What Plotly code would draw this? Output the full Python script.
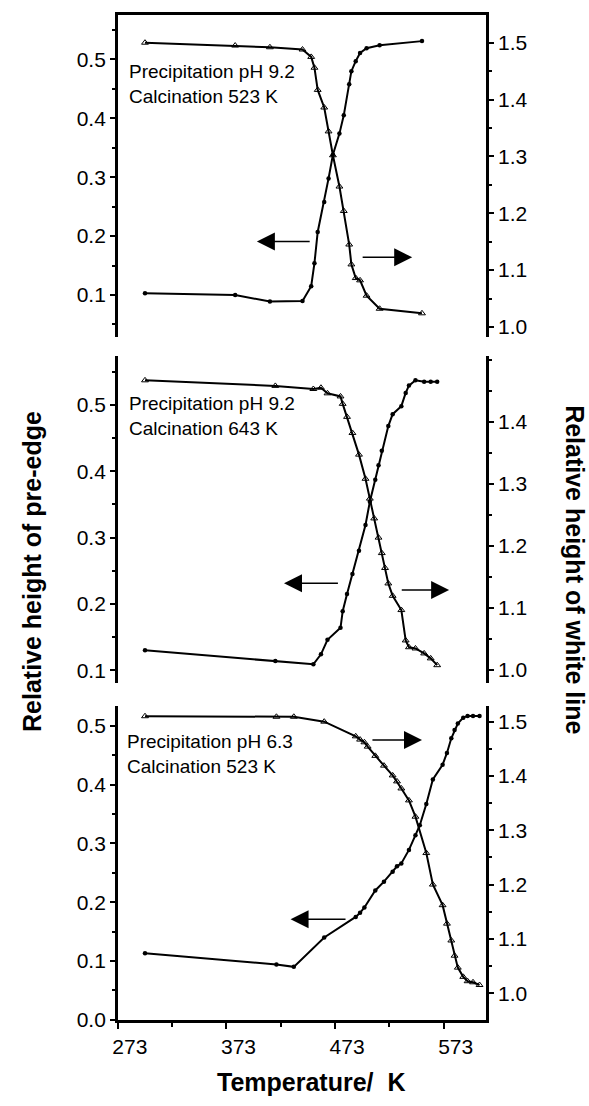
import plotly.graph_objects as go

# ---------------- data ----------------
# Panel 1: Precipitation pH 9.2, Calcination 523 K
p1_temp = [298, 381, 413, 443, 451, 454, 457, 463, 467, 471, 477, 481, 486, 488, 492, 496, 502, 514, 553]
p1_preedge = [0.103, 0.100, 0.089, 0.090, 0.115, 0.154, 0.207, 0.258, 0.298, 0.338, 0.374, 0.405,
              0.458, 0.480, 0.497, 0.511, 0.519, 0.524, 0.531]
p1_white = [1.500, 1.495, 1.492, 1.488, 1.475, 1.456, 1.417, 1.386, 1.344, 1.302, 1.247, 1.204,
            1.145, 1.110, 1.086, 1.082, 1.055, 1.032, 1.024]

# Panel 2: Precipitation pH 9.2, Calcination 643 K
p2_temp_pre = [298, 418, 453, 460, 466, 478, 480, 484, 489, 495, 501, 505, 510, 513, 516, 522, 526,
               534, 538, 541, 547, 555, 561, 567]
p2_preedge = [0.130, 0.114, 0.109, 0.124, 0.146, 0.164, 0.189, 0.215, 0.245, 0.280, 0.319, 0.354,
              0.387, 0.409, 0.431, 0.468, 0.486, 0.498, 0.518, 0.529, 0.537, 0.535, 0.535, 0.535]
p2_temp_wl = [298, 418, 453, 460, 466, 478, 480, 484, 489, 495, 501, 505, 509, 513, 516, 519, 522,
              526, 534, 538, 541, 547, 555, 561, 567]
p2_white = [1.467, 1.458, 1.453, 1.455, 1.446, 1.441, 1.429, 1.408, 1.382, 1.347, 1.308, 1.276,
            1.244, 1.213, 1.188, 1.164, 1.139, 1.119, 1.096, 1.047, 1.036, 1.034, 1.026, 1.018, 1.007]

# Panel 3: Precipitation pH 6.3, Calcination 523 K
p3_temp_pre = [298, 419, 435, 463, 492, 496, 500, 510, 518, 526, 530, 534, 541, 547, 551, 557, 563,
               572, 576, 580, 583, 586, 591, 595, 600, 606]
p3_preedge = [0.113, 0.094, 0.090, 0.140, 0.175, 0.182, 0.191, 0.220, 0.235, 0.252, 0.261, 0.266,
              0.289, 0.314, 0.331, 0.367, 0.409, 0.434, 0.454, 0.479, 0.493, 0.504, 0.514, 0.517,
              0.517, 0.517]
p3_temp_wl = [298, 419, 435, 463, 492, 496, 500, 503, 510, 518, 526, 530, 534, 541, 547, 557, 563,
              572, 576, 580, 583, 586, 591, 595, 600, 606]
p3_white = [1.510, 1.509, 1.509, 1.500, 1.473, 1.467, 1.462, 1.454, 1.437, 1.419, 1.401, 1.390,
            1.377, 1.355, 1.325, 1.258, 1.200, 1.162, 1.128, 1.097, 1.069, 1.047, 1.030, 1.022,
            1.020, 1.015]

panel_labels = ["Precipitation pH 9.2<br>Calcination 523 K",
                "Precipitation pH 9.2<br>Calcination 643 K",
                "Precipitation pH 6.3<br>Calcination 523 K"]

x_ticks = [273, 373, 473, 573]
x_minor = [323, 423, 523]
left_ticks = [[0.1, 0.2, 0.3, 0.4, 0.5], [0.1, 0.2, 0.3, 0.4, 0.5], [0.0, 0.1, 0.2, 0.3, 0.4, 0.5]]
right_ticks = [[1.0, 1.1, 1.2, 1.3, 1.4, 1.5], [1.0, 1.1, 1.2, 1.3, 1.4], [1.0, 1.1, 1.2, 1.3, 1.4, 1.5]]

x_title = "Temperature/\u00a0\u00a0K"
y_left_title = "Relative height of pre-edge"
y_right_title = "Relative height of white line"

# ---------------- layout geometry ----------------
W, H = 589, 1106
x_dom = [113 / W, 485 / W]
y_doms = [[1 - 340 / H, 1 - 15 / H], [1 - 690 / H, 1 - 360 / H], [1 - 1030 / H, 1 - 713 / H]]
x_range = [273, 612]
left_ranges = [[0.0294, 0.5756], [0.0806, 0.573], [0.0, 0.534]]
right_ranges = [[0.983, 1.549], [0.978, 1.5056], [0.951, 1.529]]

# label / arrow placement (data units of each panel's left axis)
label_pos = [(281.0, 0.458), (281.0, 0.4836), (280.0, 0.453)]
arrows = [  # (tail_x, head_x, y)
    [(451, 401, 0.191), (497, 544, 0.164)],
    [(477, 426, 0.231), (533, 578, 0.221)],
    [(506, 553, 0.476), (484, 432, 0.171)],
]

FONT = "Liberation Sans, Arial, Helvetica, sans-serif"
BLACK = "#000000"

series = [
    (p1_temp, p1_preedge, p1_temp, p1_white),
    (p2_temp_pre, p2_preedge, p2_temp_wl, p2_white),
    (p3_temp_pre, p3_preedge, p3_temp_wl, p3_white),
]

fig = go.Figure()
layout = dict(
    width=W, height=H, margin=dict(l=0, r=0, t=0, b=0),
    paper_bgcolor="white", plot_bgcolor="white", showlegend=False,
    font=dict(family=FONT, color=BLACK, size=21),
)
annotations = []

for i, (tp, pre, tw, wl) in enumerate(series):
    n = i + 1
    xname = "x" if n == 1 else f"x{n}"
    yl = 2 * n - 1
    yr = 2 * n
    ylname = "y" if yl == 1 else f"y{yl}"
    yrname = f"y{yr}"

    fig.add_trace(go.Scatter(
        x=tp, y=pre, xaxis=xname, yaxis=ylname, mode="lines+markers",
        line=dict(color=BLACK, width=2),
        marker=dict(symbol="circle", size=4.5, color=BLACK),
        cliponaxis=False))
    fig.add_trace(go.Scatter(
        x=tw, y=wl, xaxis=xname, yaxis=yrname, mode="lines+markers",
        line=dict(color=BLACK, width=2),
        marker=dict(symbol="triangle-up-open", size=6, color=BLACK, line=dict(width=1, color=BLACK)),
        cliponaxis=False))

    xkey = "xaxis" if n == 1 else f"xaxis{n}"
    xa = dict(domain=x_dom, range=x_range, anchor=ylname, showgrid=False, zeroline=False,
              linecolor=BLACK, linewidth=2.5)
    if n == 1:
        xa.update(side="top", showline=True, ticks="", showticklabels=False)
    elif n == 2:
        xa.update(showline=False, ticks="", showticklabels=False)
    else:
        xa.update(side="bottom", showline=True, ticks="outside", ticklen=6, tickwidth=2,
                  tickcolor=BLACK, tickmode="array", tickvals=x_ticks,
                  ticktext=[str(v) for v in x_ticks], ticklabelshift=12,
                  tickfont=dict(size=21, family=FONT, color=BLACK),
                  minor=dict(tickmode="array", tickvals=x_minor, ticks="outside",
                             ticklen=4, tickwidth=1.5, tickcolor=BLACK))
    layout[xkey] = xa

    common_y = dict(showgrid=False, zeroline=False, showline=True, linecolor=BLACK, linewidth=2.5,
                    ticks="outside", ticklen=5, tickwidth=2, tickcolor=BLACK, tickformat=".1f",
                    tickfont=dict(size=21, family=FONT, color=BLACK))
    ylkey = "yaxis" if yl == 1 else f"yaxis{yl}"
    layout[ylkey] = dict(domain=y_doms[i], range=left_ranges[i], anchor=xname, side="left",
                         tickmode="array", tickvals=left_ticks[i],
                         minor=dict(tickmode="linear", tick0=0, dtick=0.05, ticks="outside",
                                    ticklen=3, tickwidth=1.5, tickcolor=BLACK),
                         **common_y)
    layout[f"yaxis{yr}"] = dict(range=right_ranges[i], anchor=xname, side="right",
                                overlaying=ylname, tickmode="array", tickvals=right_ticks[i],
                                minor=dict(tickmode="linear", tick0=0, dtick=0.05, ticks="outside",
                                           ticklen=3, tickwidth=1.5, tickcolor=BLACK),
                                **common_y)

    # condition label
    lx, ly = label_pos[i]
    annotations.append(dict(x=lx, y=ly, xref=xname, yref=ylname, text=panel_labels[i],
                            showarrow=False, xanchor="left", yanchor="middle", align="left",
                            font=dict(size=19, family=FONT, color=BLACK)))
    # arrows
    for (tx, hx, ay) in arrows[i]:
        annotations.append(dict(x=hx, y=ay, ax=tx, ay=ay, xref=xname, yref=ylname,
                                axref=xname, ayref=ylname, text="", showarrow=True,
                                arrowhead=2, arrowsize=2.4, arrowwidth=1.5, arrowcolor=BLACK,
                                standoff=0, startstandoff=0))

# axis titles
annotations.append(dict(x=27 / W, y=1 - 577 / H, xref="paper", yref="paper", text=y_left_title,
                        textangle=-90, showarrow=False, xanchor="center", yanchor="middle",
                        font=dict(size=25, family=FONT, color=BLACK, weight="bold")))
annotations.append(dict(x=575 / W, y=1 - 575 / H, xref="paper", yref="paper", text=y_right_title,
                        textangle=90, showarrow=False, xanchor="center", yanchor="middle",
                        font=dict(size=25, family=FONT, color=BLACK, weight="bold")))
annotations.append(dict(x=308 / W, y=1 - 1093 / H, xref="paper", yref="paper", text=x_title,
                        showarrow=False, xanchor="center", yanchor="middle",
                        font=dict(size=25, family=FONT, color=BLACK, weight="bold")))

layout["annotations"] = annotations
fig.update_layout(**layout)
fig.write_html("out.html", config={"displayModeBar": False},
               post_script="document.body.style.margin='0';document.body.style.overflow='hidden';")
